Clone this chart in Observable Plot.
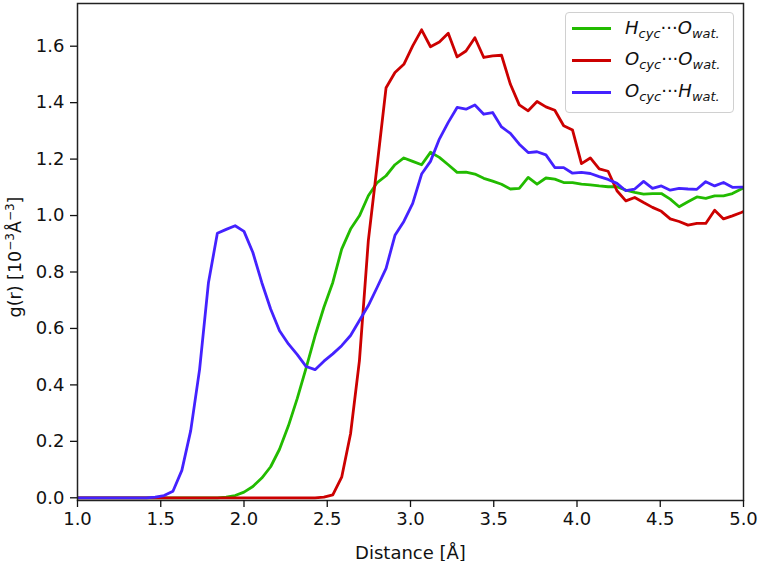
<!DOCTYPE html>
<html>
<head>
<meta charset="utf-8">
<script src="https://cdn.jsdelivr.net/npm/d3@7"></script>
<script src="https://cdn.jsdelivr.net/npm/@observablehq/plot@0.6"></script>
<style>
  body { margin: 0; background: #fff; }
  #wrap { position: relative; width: 760px; height: 561px; }
  .legend { position: absolute; left: 565px; top: 12px; width: 169px; height: 101px; box-sizing: border-box;
    border: 1px solid #d0d0d0; border-radius: 4px; background: rgba(255,255,255,0.85);
    font-family: "DejaVu Sans", sans-serif; font-size: 18px; color: #111; }
  .row { position: absolute; left: 0; height: 0; }
  .swatch { position: absolute; left: 6px; width: 39px; height: 3px; top: -1.5px; }
  .lab { position: absolute; left: 59px; top: -12px; white-space: nowrap; line-height: 22px; }
  .lab i { font-style: italic; }
  .lab sub { font-size: 13px; font-style: italic; vertical-align: -4px; line-height: 0; }
  .ylab { position: absolute; left: 15px; top: 257px; transform: translate(-50%, -50%) rotate(-90deg);
    white-space: nowrap; font-family: "DejaVu Sans", sans-serif; font-size: 17.5px; color: #111; line-height: 20px; }
  .ylab sup { font-size: 12px; vertical-align: 7px; line-height: 0; }
</style>
</head>
<body>
<div id="wrap"></div>
<script>
// Distance grid (Å), bin centres
const distance = [0.9867,1.0400,1.0933,1.1467,1.2000,1.2533,1.3067,1.3600,1.4133,1.4667,
  1.5200,1.5733,1.6267,1.6800,1.7333,1.7867,1.8400,1.8933,1.9467,2.0000,
  2.0533,2.1067,2.1600,2.2133,2.2667,2.3200,2.3733,2.4267,2.4800,2.5333,
  2.5867,2.6400,2.6933,2.7467,2.8000,2.8533,2.9067,2.9600,3.0133,3.0667,
  3.1200,3.1733,3.2267,3.2800,3.3333,3.3867,3.4400,3.4933,3.5467,3.6000,
  3.6533,3.7067,3.7600,3.8133,3.8667,3.9200,3.9733,4.0267,4.0800,4.1333,
  4.1867,4.2400,4.2933,4.3467,4.4000,4.4533,4.5067,4.5600,4.6133,4.6667,
  4.7200,4.7733,4.8267,4.8800,4.9333,4.9867,5.0400];

const seriesNames = ["HcycOwat", "OcycOwat", "OcycHwat"];
const seriesColors = ["#22bb00", "#cc0000", "#4422ff"];

const hcycOwat = [0,0,0,0,0,0,0,0,0,0,
  0,0,0,0,0,0,0,0.002,0.008,0.02,
  0.04,0.07,0.11,0.172,0.255,0.352,0.46,0.574,0.675,0.763,
  0.881,0.952,0.999,1.070,1.117,1.141,1.180,1.204,1.192,1.180,
  1.224,1.206,1.180,1.153,1.154,1.147,1.132,1.122,1.111,1.094,
  1.096,1.135,1.111,1.133,1.129,1.117,1.117,1.111,1.109,1.105,
  1.102,1.102,1.090,1.082,1.076,1.078,1.078,1.058,1.031,1.049,
  1.066,1.061,1.070,1.070,1.078,1.094,1.11];

const ocycOwat = [0,0,0,0,0,0,0,0,0,0,
  0,0,0,0,0,0,0,0,0,0,
  0,0,0,0,0,0,0,0,0.002,0.01,
  0.073,0.227,0.486,0.911,1.18,1.453,1.507,1.536,1.601,1.658,
  1.598,1.615,1.646,1.562,1.583,1.630,1.560,1.566,1.568,1.465,
  1.392,1.371,1.404,1.385,1.373,1.318,1.303,1.184,1.204,1.165,
  1.157,1.088,1.052,1.064,1.046,1.029,1.015,0.988,0.979,0.966,
  0.972,0.972,1.019,0.988,0.999,1.011,1.025];

const ocycHwat = [0,0,0,0,0,0,0,0,0,0.002,
  0.008,0.023,0.097,0.238,0.455,0.763,0.937,0.951,0.964,0.944,
  0.869,0.763,0.669,0.592,0.545,0.507,0.465,0.454,0.484,0.510,
  0.539,0.575,0.628,0.681,0.746,0.813,0.930,0.979,1.043,1.147,
  1.192,1.271,1.330,1.383,1.377,1.392,1.359,1.365,1.314,1.291,
  1.253,1.223,1.226,1.215,1.170,1.170,1.150,1.153,1.149,1.138,
  1.128,1.114,1.088,1.094,1.121,1.096,1.105,1.090,1.096,1.094,
  1.093,1.120,1.105,1.117,1.100,1.101,1.10];

const xTicks = [1.0, 1.5, 2.0, 2.5, 3.0, 3.5, 4.0, 4.5, 5.0];
const yTicks = [0.0, 0.2, 0.4, 0.6, 0.8, 1.0, 1.2, 1.4, 1.6];

const allValues = [hcycOwat, ocycOwat, ocycHwat];
const rows = [];
allValues.forEach((vals, s) => vals.forEach((v, i) => rows.push({r: distance[i], g: v, name: seriesNames[s]})));

const fmt = d3.format(".1f");
const chart = Plot.plot({
  width: 760, height: 561,
  marginLeft: 77, marginRight: 17, marginTop: 3, marginBottom: 61,
  style: {fontFamily: "DejaVu Sans, sans-serif", fontSize: "18px", background: "#fff", color: "#111", overflow: "visible"},
  x: {domain: [1, 5]},
  y: {domain: [-0.0096, 1.7513]},
  color: {domain: seriesNames, range: seriesColors},
  marks: [
    Plot.line(rows, {x: "r", y: "g", z: "name", stroke: "name", strokeWidth: 2.8, clip: true}),
    Plot.frame({stroke: "#222", strokeWidth: 1.5}),
    Plot.axisX({ticks: xTicks, tickFormat: fmt, tickSize: 7, tickPadding: 5, fontSize: 18, strokeWidth: 1.3,
      label: "Distance [Å]", labelArrow: "none", labelAnchor: "center", labelOffset: 58}),
    Plot.axisY({ticks: yTicks, tickFormat: fmt, tickSize: 7, tickPadding: 6, fontSize: 18, strokeWidth: 1.3, label: null})
  ]
});

const wrap = document.getElementById("wrap");
wrap.appendChild(chart);

const ylab = document.createElement("div");
ylab.className = "ylab";
ylab.innerHTML = "g(r) [10<sup>−3</sup>Å<sup>−3</sup>]";
wrap.appendChild(ylab);

const legendLabels = [
  ["H", "cyc", "O", "wat."],
  ["O", "cyc", "O", "wat."],
  ["O", "cyc", "H", "wat."]
];
const rowY = [15.7, 47.3, 79];
const leg = document.createElement("div");
leg.className = "legend";
legendLabels.forEach((l, k) => {
  const row = document.createElement("div");
  row.className = "row";
  row.style.top = rowY[k] + "px";
  row.innerHTML = `<div class="swatch" style="background:${seriesColors[k]}"></div>` +
    `<div class="lab"><i>${l[0]}</i><sub>${l[1]}</sub>···<i>${l[2]}</i><sub>${l[3]}</sub></div>`;
  leg.appendChild(row);
});
wrap.appendChild(leg);
</script>
</body>
</html>
